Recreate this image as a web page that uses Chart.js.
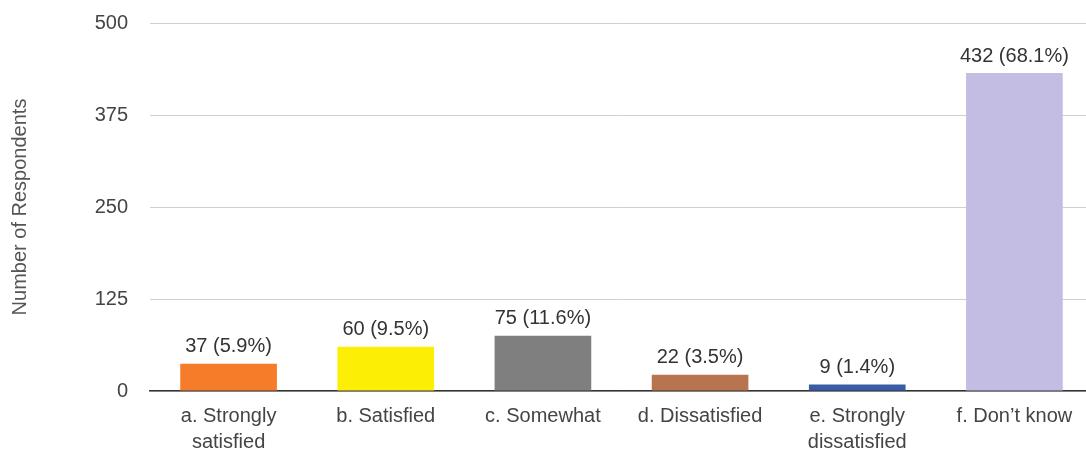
<!DOCTYPE html>
<html>
<head>
<meta charset="utf-8">
<script src="https://cdn.jsdelivr.net/npm/chart.js@4.4.1/dist/chart.umd.min.js"></script>
<style>
  html, body { margin: 0; padding: 0; background: #fff; overflow: hidden; }
  #wrap { width: 1093px; height: 451px; }
</style>
</head>
<body>
<div id="wrap"><canvas id="c" width="1093" height="451"></canvas></div>
<script>
const categories = [
  ["a. Strongly", "satisfied"],
  "b. Satisfied",
  "c. Somewhat",
  "d. Dissatisfied",
  ["e. Strongly", "dissatisfied"],
  "f. Don\u2019t know"
];
const respondents = [37, 60, 75, 22, 9, 432];
const percentages = ["5.9%", "9.5%", "11.6%", "3.5%", "1.4%", "68.1%"];
const barColors = ["#f57d2a", "#fdee05", "#7f7f7f", "#b8744f", "#3a5ca6", "#c3bce3"];
const yTicks = [0, 125, 250, 375, 500];

const FONT = "'Liberation Sans', Arial, sans-serif";

const valueLabels = {
  id: 'valueLabels',
  afterDatasetsDraw(chart) {
    const ctx = chart.ctx;
    const meta = chart.getDatasetMeta(0);
    ctx.save();
    ctx.font = "20px " + FONT;
    ctx.fillStyle = "#333";
    ctx.textAlign = "center";
    ctx.textBaseline = "middle";
    meta.data.forEach((bar, i) => {
      ctx.fillText(respondents[i] + " (" + percentages[i] + ")", bar.x, bar.y - 17);
    });
    ctx.restore();
  }
};

new Chart(document.getElementById('c'), {
  type: 'bar',
  data: {
    labels: categories,
    datasets: [{
      data: respondents,
      backgroundColor: barColors,
      categoryPercentage: 1,
      barPercentage: 0.615
    }]
  },
  options: {
    responsive: false,
    animation: false,
    layout: { padding: { top: 23, right: 0, left: 0, bottom: 0 } },
    plugins: { legend: { display: false }, tooltip: { enabled: false } },
    scales: {
      x: {
        grid: { display: false, drawTicks: false },
        border: { color: "#333", width: 1.5 },
        ticks: {
          color: "#444",
          font: { family: FONT, size: 20, lineHeight: 1.3 },
          padding: 12,
          maxRotation: 0,
          autoSkip: false
        },
        afterFit(s) { s.height = 60; }
      },
      y: {
        min: 0, max: 500,
        afterBuildTicks(s) { s.ticks = yTicks.map(v => ({ value: v })); },
        grid: { color: "#d0d0d0", drawTicks: false },
        border: { display: false },
        ticks: {
          color: "#444",
          font: { family: FONT, size: 20 },
          padding: 22
        },
        title: {
          display: true,
          text: "Number of Respondents",
          color: "#555",
          font: { family: FONT, size: 20 },
          padding: { top: 8, bottom: 0 }
        },
        afterFit(s) { s.width = 150; s.paddingTop = 0; s.paddingBottom = 0; }
      }
    }
  },
  plugins: [valueLabels]
});
</script>
</body>
</html>
